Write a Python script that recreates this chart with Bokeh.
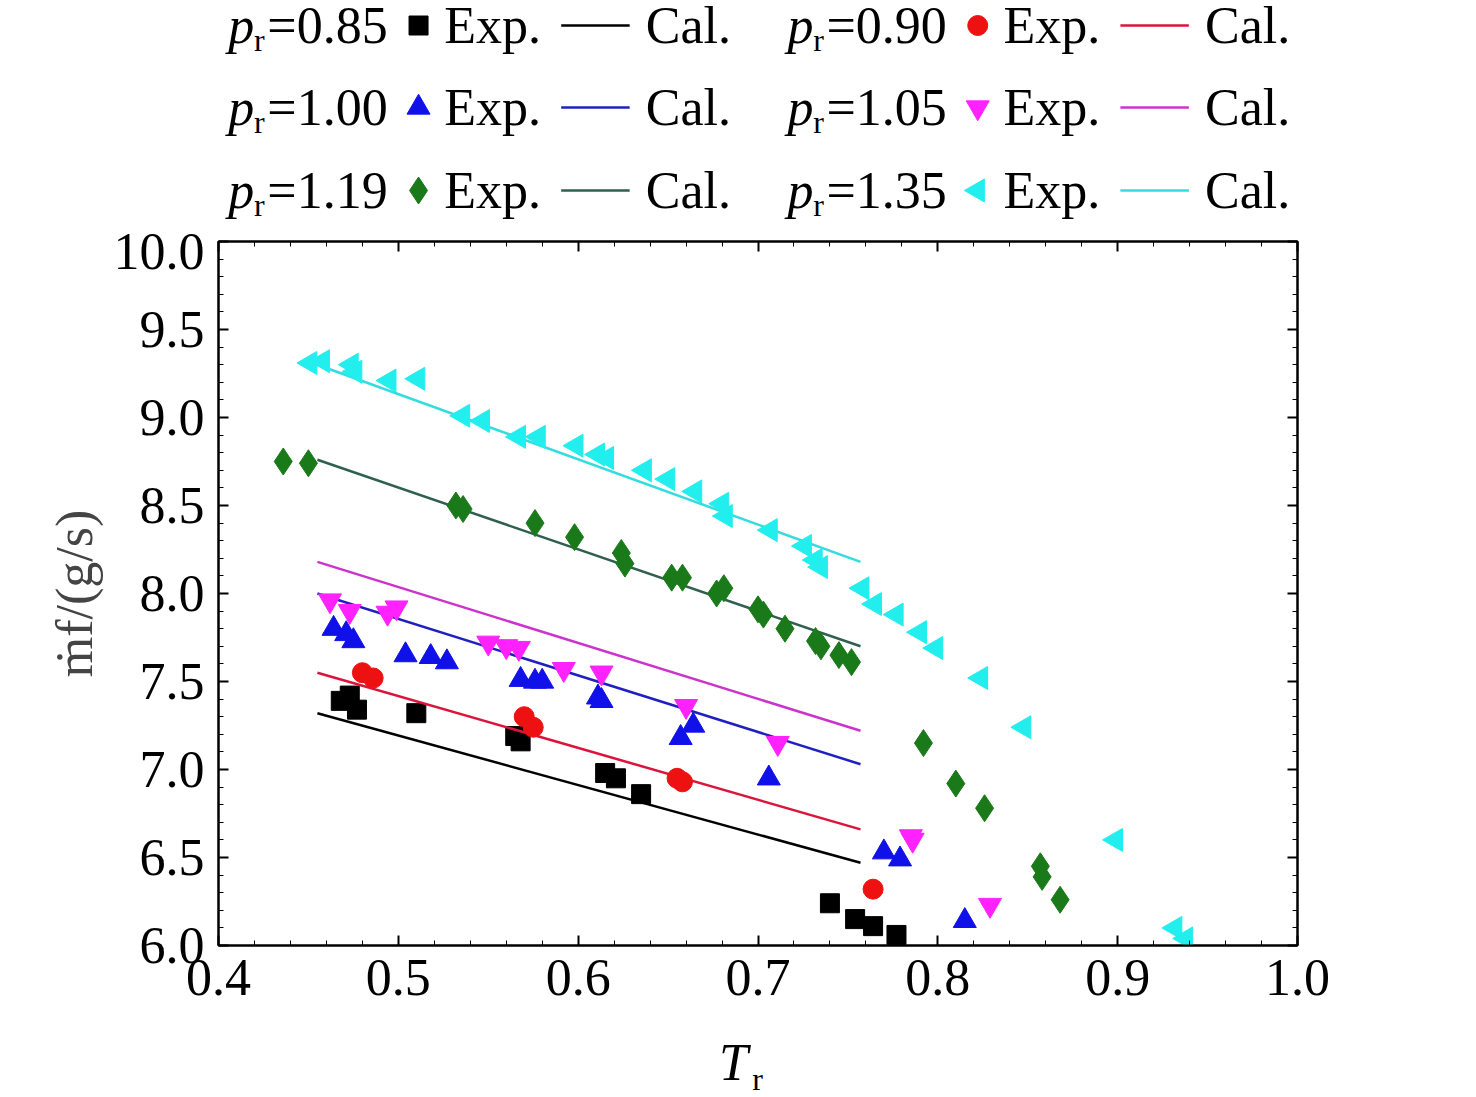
import math
from bokeh.plotting import figure
from bokeh.layouts import column
from bokeh.models import Range1d, LinearAxis, Label, FixedTicker
from bokeh.embed import file_html
from bokeh.resources import INLINE

FONT = "Liberation Serif"
pr_labels = ["0.85", "0.90", "1.00", "1.05", "1.19", "1.35"]

x085 = [0.468,0.473,0.477,0.51,0.565,0.568,0.615,0.621,0.635,0.74,0.754,0.764,0.777]
y085 = [7.39,7.42,7.34,7.32,7.19,7.16,6.98,6.95,6.86,6.24,6.15,6.11,6.06]
x090 = [0.48,0.486,0.570,0.575,0.655,0.658,0.764]
y090 = [7.55,7.52,7.30,7.24,6.95,6.93,6.32]
x100 = [0.464,0.471,0.475,0.504,0.518,0.527,0.568,0.576,0.580,0.611,0.613,0.657,0.664,0.706,0.770,0.779,0.815]
y100 = [7.80,7.77,7.73,7.65,7.64,7.61,7.51,7.50,7.50,7.41,7.39,7.18,7.25,6.95,6.53,6.49,6.14]
x105 = [0.462,0.473,0.494,0.499,0.55,0.560,0.567,0.592,0.613,0.660,0.711,0.785,0.786,0.829]
y105 = [7.96,7.90,7.89,7.92,7.72,7.70,7.69,7.57,7.55,7.36,7.15,6.62,6.60,6.23]
x119 = [0.436,0.45,0.532,0.536,0.576,0.598,0.624,0.626,0.652,0.658,0.677,0.681,0.700,0.703,0.715,0.732,0.735,0.745,0.752,0.792,0.810,0.826,0.857,0.858,0.868]
y119 = [8.75,8.74,8.50,8.48,8.40,8.32,8.23,8.17,8.09,8.09,8.00,8.03,7.91,7.88,7.80,7.73,7.70,7.65,7.61,7.15,6.92,6.78,6.45,6.39,6.26]
x135 = [0.451,0.458,0.474,0.476,0.495,0.511,0.536,0.547,0.567,0.578,0.599,0.611,0.616,0.637,0.650,0.665,0.680,0.682,0.707,0.726,0.732,0.735,0.758,0.765,0.777,0.790,0.799,0.824,0.848,0.899,0.932,0.938]
y135 = [9.31,9.32,9.30,9.26,9.21,9.22,9.01,8.98,8.89,8.89,8.84,8.79,8.77,8.70,8.65,8.58,8.51,8.44,8.36,8.27,8.19,8.15,8.03,7.94,7.88,7.78,7.69,7.52,7.24,6.60,6.10,6.04]

cal_x = [0.455, 0.757]
cal085 = [7.32, 6.47]
cal090 = [7.55, 6.66]
cal100 = [8.00, 7.03]
cal105 = [8.18, 7.22]
cal119 = [8.76, 7.70]
cal135 = [9.30, 8.18]

series = [
    (x085, y085, cal085, "square", "black", "black", 19, 0),
    (x090, y090, cal090, "circle", "#ee1111", "#dc143c", 20, 0),
    (x100, y100, cal100, "triangle", "#1010e8", "#2020c0", 23, 0),
    (x105, y105, cal105, "inverted_triangle", "#ff22ff", "#cc33cc", 23, 0),
    (x119, y119, cal119, "diamond", "#1a7a1a", "#2f5f4f", 27, 0),
    (x135, y135, cal135, "triangle", "#22eeee", "#33dddd", 23, math.pi / 2),
]

W = 1468
BL, BR = 218, 171

p = figure(width=W, height=787, output_backend="svg", toolbar_location=None,
           x_range=Range1d(0.4, 1.0), y_range=Range1d(6.0, 10.0),
           min_border_left=BL, min_border_right=BR, min_border_top=8, min_border_bottom=75)
p.grid.visible = False
p.outline_line_color = "black"
p.outline_line_width = 2

for ax in (p.xaxis[0], p.yaxis[0]):
    ax.major_label_text_font = FONT
    ax.major_label_text_font_size = "52px"
    ax.major_label_text_color = "black"
    ax.major_tick_in = 10; ax.major_tick_out = 0
    ax.minor_tick_in = 5; ax.minor_tick_out = 0
    ax.axis_line_width = 2; ax.major_tick_line_width = 2
    ax.major_label_standoff = 14
p.xaxis[0].ticker = FixedTicker(ticks=[0.4,0.5,0.6,0.7,0.8,0.9,1.0],
                                minor_ticks=[0.4 + 0.02*i for i in range(31)])
p.yaxis[0].ticker = FixedTicker(ticks=[6.0+0.5*i for i in range(9)],
                                minor_ticks=[6.0+0.1*i for i in range(41)])
p.xaxis[0].major_label_overrides = {v: f"{v:.1f}" for v in [0.4,0.5,0.6,0.7,0.8,0.9,1.0]}
p.yaxis[0].major_label_overrides = {6.0+0.5*i: f"{6.0+0.5*i:.1f}" for i in range(9)}
p.yaxis[0].axis_label = "ṁf/(g/s)"
p.yaxis[0].axis_label_text_font = FONT
p.yaxis[0].axis_label_text_font_size = "52px"
p.yaxis[0].axis_label_text_font_style = "normal"
p.yaxis[0].axis_label_standoff = 8
for loc, tick in (("right", p.yaxis[0].ticker), ("above", p.xaxis[0].ticker)):
    a = LinearAxis(ticker=tick, major_label_text_font_size="0px", major_tick_in=10,
                   major_tick_out=0, minor_tick_in=5, minor_tick_out=0,
                   axis_line_width=2, major_tick_line_width=2)
    p.add_layout(a, loc)

for xs, ys, cal, mk, c, lc, sz, ang in series:
    p.line(cal_x, cal, line_color=lc, line_width=2.5)
    p.scatter(xs, ys, marker=mk, size=sz, color=c, angle=ang)

def lab(fig, x, y, t, size, style="normal", angle=0, align="center"):
    fig.add_layout(Label(x=x, y=y, text=t, text_font=FONT, text_font_size=size,
                         text_font_style=style, text_align=align, text_baseline="middle",
                         angle=angle, text_color="black"))

def bare(h):
    f = figure(width=W, height=h, output_backend="svg", toolbar_location=None,
               x_range=Range1d(BL, W - BR), y_range=Range1d(h, 0),
               min_border_left=BL, min_border_right=BR, min_border_top=0, min_border_bottom=0)
    f.axis.visible = False
    f.grid.visible = False
    f.outline_line_color = None
    return f

# legend (page pixel coordinates, y from top)
lg = bare(233)
def px(x):
    return 758.5 + (x - 761) * 0.951
rows = [25, 107, 190]
cols = [0, 588]
for i, (xs, ys, cal, mk, c, lc, sz, ang) in enumerate(series):
    r = rows[i // 2]; ox = cols[i % 2]
    lab(lg, px(203 + ox), r, "p", "52px", "italic", align="left")
    lab(lg, px(230 + ox), r + 14, "r", "32px", align="left")
    lab(lg, px(244 + ox), r, "=" + pr_labels[i], "52px", align="left")
    lg.scatter([px(403 + ox)], [r], marker=mk, size=sz, color=c, angle=ang)
    lab(lg, px(430 + ox), r, "Exp.", "52px", align="left")
    lg.line([px(553 + ox), px(625 + ox)], [r, r], line_color=lc, line_width=2.5)
    lab(lg, px(642 + ox), r, "Cal.", "52px", align="left")

# x axis title
xl = bare(70)
lab(xl, 733, 42, "T", "52px", "italic")
lab(xl, 757, 58, "r", "32px")

layout = column(lg, p, xl, spacing=0)
open("out.html", "w").write(file_html(layout, INLINE))
